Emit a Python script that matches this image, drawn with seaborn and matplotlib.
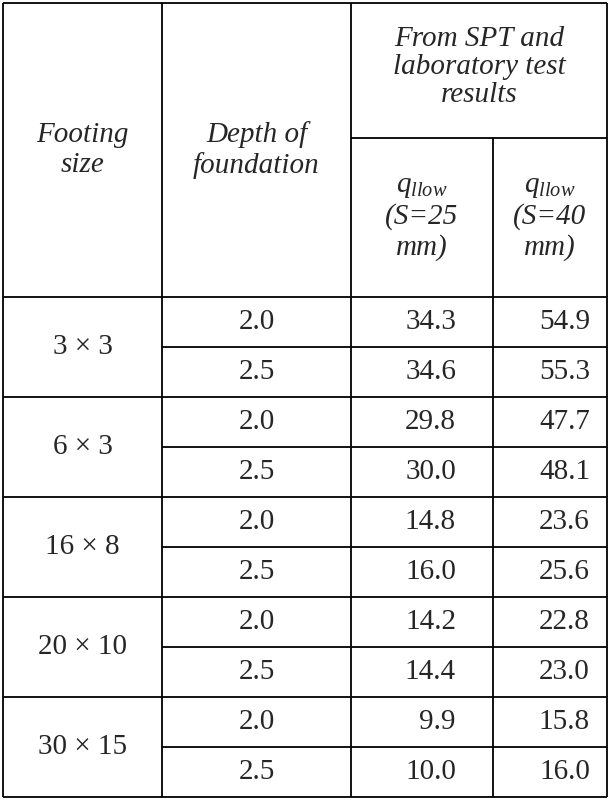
import matplotlib
matplotlib.use("Agg")
import matplotlib.pyplot as plt
import seaborn as sns

# TABLE DATA
sizes=["3 × 3","6 × 3","16 × 8","20 × 10","30 × 15"]
depths=["2.0","2.5"]
q25=["34.3","34.6","29.8","30.0","14.8","16.0","14.2","14.4","9.9","10.0"]
q40=["54.9","55.3","47.7","48.1","23.6","25.6","22.8","23.0","15.8","16.0"]

sns.set_style("white")
plt.rcParams["font.family"]=["Liberation Serif","DejaVu Serif"]
plt.rcParams["mathtext.fontset"]="custom"
plt.rcParams["mathtext.rm"]="Liberation Serif"
plt.rcParams["mathtext.it"]="Liberation Serif:italic"

fig=plt.figure(figsize=(6.1,8),dpi=100)
ax=fig.add_axes([0,0,1,1])
ax.set_xlim(0,610)
ax.set_ylim(800,0)
ax.axis("off")

# GRID
xl,x1,x2,x3,xr=3,162,351,493,607
yt,ysub,yh=3,138,297
rh=50
yb=yh+rh*len(q25)
lw=1.3
ax.hlines([yt,yh,yb],xl,xr,color="black",lw=lw)
ax.hlines(ysub,x2,xr,color="black",lw=lw)
ax.vlines([xl,x1,x2,xr],yt,yb,color="black",lw=lw)
ax.vlines(x3,ysub,yb,color="black",lw=lw)
for i in range(1,len(q25)):
    y=yh+i*rh
    if i%2==0:
        ax.hlines(y,xl,xr,color="black",lw=lw)
    else:
        ax.hlines(y,x1,xr,color="black",lw=lw)

fs=21
# HEADER
ax.text((xl+x1)/2,(yt+yh)/2,"Footing\nsize",ha="center",va="center",fontsize=fs,style="italic",linespacing=1.15)
ax.text((x1+x2)/2,(yt+yh)/2,"Depth of\nfoundation",ha="center",va="center",fontsize=fs,style="italic",linespacing=1.15)
ax.text((x2+xr)/2,(yt+ysub)/2-4,"From SPT and\nlaboratory test\nresults",ha="center",va="center",fontsize=fs,style="italic",linespacing=1.1)
for xa,xb,s in [(x2,x3,"25"),(x3,xr,"40")]:
    ax.text((xa+xb)/2,(ysub+yh)/2,"$q_{llow}$\n(S="+s+"\nmm)",ha="center",va="center",fontsize=fs,style="italic",linespacing=1.15)

# BODY
for g,s in enumerate(sizes):
    ax.text((xl+x1)/2,yh+rh*(2*g+1),s,ha="center",va="center",fontsize=fs)
for i in range(len(q25)):
    yc=yh+rh*(i+0.5)
    ax.text((x1+x2)/2,yc,depths[i%2],ha="center",va="center",fontsize=fs)
    ax.text(456,yc,q25[i],ha="right",va="center",fontsize=fs)
    ax.text(590,yc,q40[i],ha="right",va="center",fontsize=fs)

fig.savefig("out.png",dpi=100)
